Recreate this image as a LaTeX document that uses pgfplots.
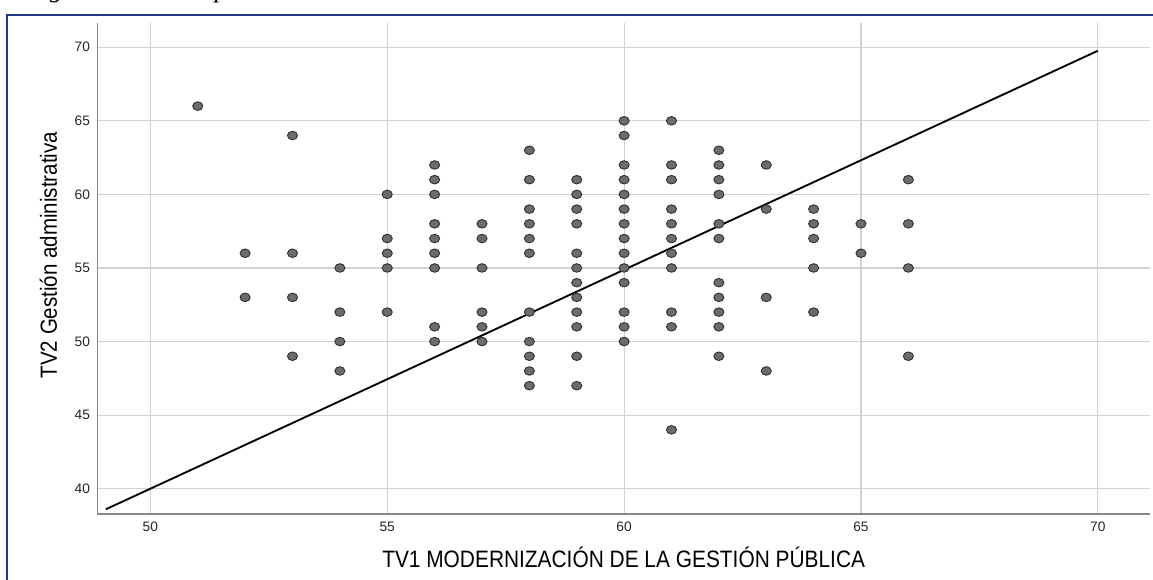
\documentclass[border=0pt]{standalone}
\usepackage{fontspec}
\setmainfont{Liberation Sans}
\newfontfamily\narrowfont[FakeStretch=0.88]{Liberation Sans}
\newfontfamily\serifit{Liberation Serif}
\usepackage{pgfplots}
\usepackage{pgfplotstable}
\pgfplotsset{compat=1.18}
\definecolor{framenavy}{RGB}{32,58,125}
\definecolor{dotfill}{RGB}{108,108,108}
\definecolor{dotdraw}{RGB}{50,50,50}
\definecolor{gridc}{RGB}{210,210,210}
\definecolor{axisc}{RGB}{135,135,135}

\pgfplotstableread{
x y
51 66
52 56
52 53
53 64
53 56
53 53
53 49
54 55
54 52
54 50
54 48
55 60
55 57
55 56
55 55
55 52
56 62
56 61
56 60
56 58
56 57
56 56
56 55
56 51
56 50
57 58
57 57
57 55
57 52
57 51
57 50
58 63
58 61
58 59
58 58
58 57
58 56
58 52
58 50
58 49
58 48
58 47
59 61
59 60
59 59
59 58
59 56
59 55
59 54
59 53
59 52
59 51
59 49
59 47
60 65
60 64
60 62
60 61
60 60
60 59
60 58
60 57
60 56
60 55
60 54
60 52
60 51
60 50
61 65
61 62
61 61
61 59
61 58
61 57
61 56
61 55
61 52
61 51
61 44
62 63
62 62
62 61
62 60
62 58
62 57
62 54
62 53
62 52
62 51
62 49
63 62
63 59
63 53
63 48
64 59
64 58
64 57
64 55
64 52
65 58
65 56
66 61
66 58
66 55
66 49
}\scatterdata

\pgfplotstableread{
x y
49.06 38.60
70 69.76
}\fitline

\begin{document}
\begin{tikzpicture}
\path[use as bounding box] (0pt,0pt) rectangle (864.75pt,434.25pt);
\node[anchor=base west, inner sep=0pt, font=\serifit\itshape\fontsize{19.2}{21}\selectfont] at (20.1pt,436.3pt) {Figura 3 Nube de puntos};
\begin{axis}[
  at={(72.98pt,48.75pt)}, anchor=south west,
  scale only axis,
  width=789.5pt, height=368.5pt,
  xmin=48.88, xmax=71.1, ymin=38.28, ymax=71.67,
  xtick={50,55,60,65,70}, ytick={40,45,50,55,60,65,70},
  grid=major,
  major grid style={draw=gridc, line width=0.9pt},
  axis x line*=bottom, axis y line*=left,
  axis line style={draw=axisc, line width=1.2pt, -},
  tick style={draw=none},
  /pgf/number format/assume math mode=true,
  tick label style={font=\fontsize{10.3}{11}\selectfont, text=black!85},
  xticklabel style={yshift=-2.5pt},
  yticklabel style={xshift=-2pt},
  xlabel={\narrowfont TV1 MODERNIZACIÓN DE LA GESTIÓN PÚBLICA},
  ylabel={\narrowfont TV2 Gestión administrativa},
  xlabel style={at={(axis description cs:0.5,-0.0875)}, anchor=center, font=\fontsize{17.8}{19}\selectfont},
  ylabel style={at={(axis description cs:-0.0465,0.527)}, anchor=center, font=\fontsize{17.5}{19}\selectfont},
  clip=false,
]
\addplot[only marks, mark=*, mark size=3.2pt,
  mark options={xscale=1.18, fill=dotfill, draw=dotdraw, line width=0.7pt}]
  table[x=x,y=y] {\scatterdata};
\addplot[black, line width=1.4pt, no marks] table[x=x,y=y] {\fitline};
\end{axis}
\draw[framenavy, line width=1.6pt] (5.25pt,-5pt) -- (5.25pt,423pt) -- (870pt,423pt);
\end{tikzpicture}
\end{document}
